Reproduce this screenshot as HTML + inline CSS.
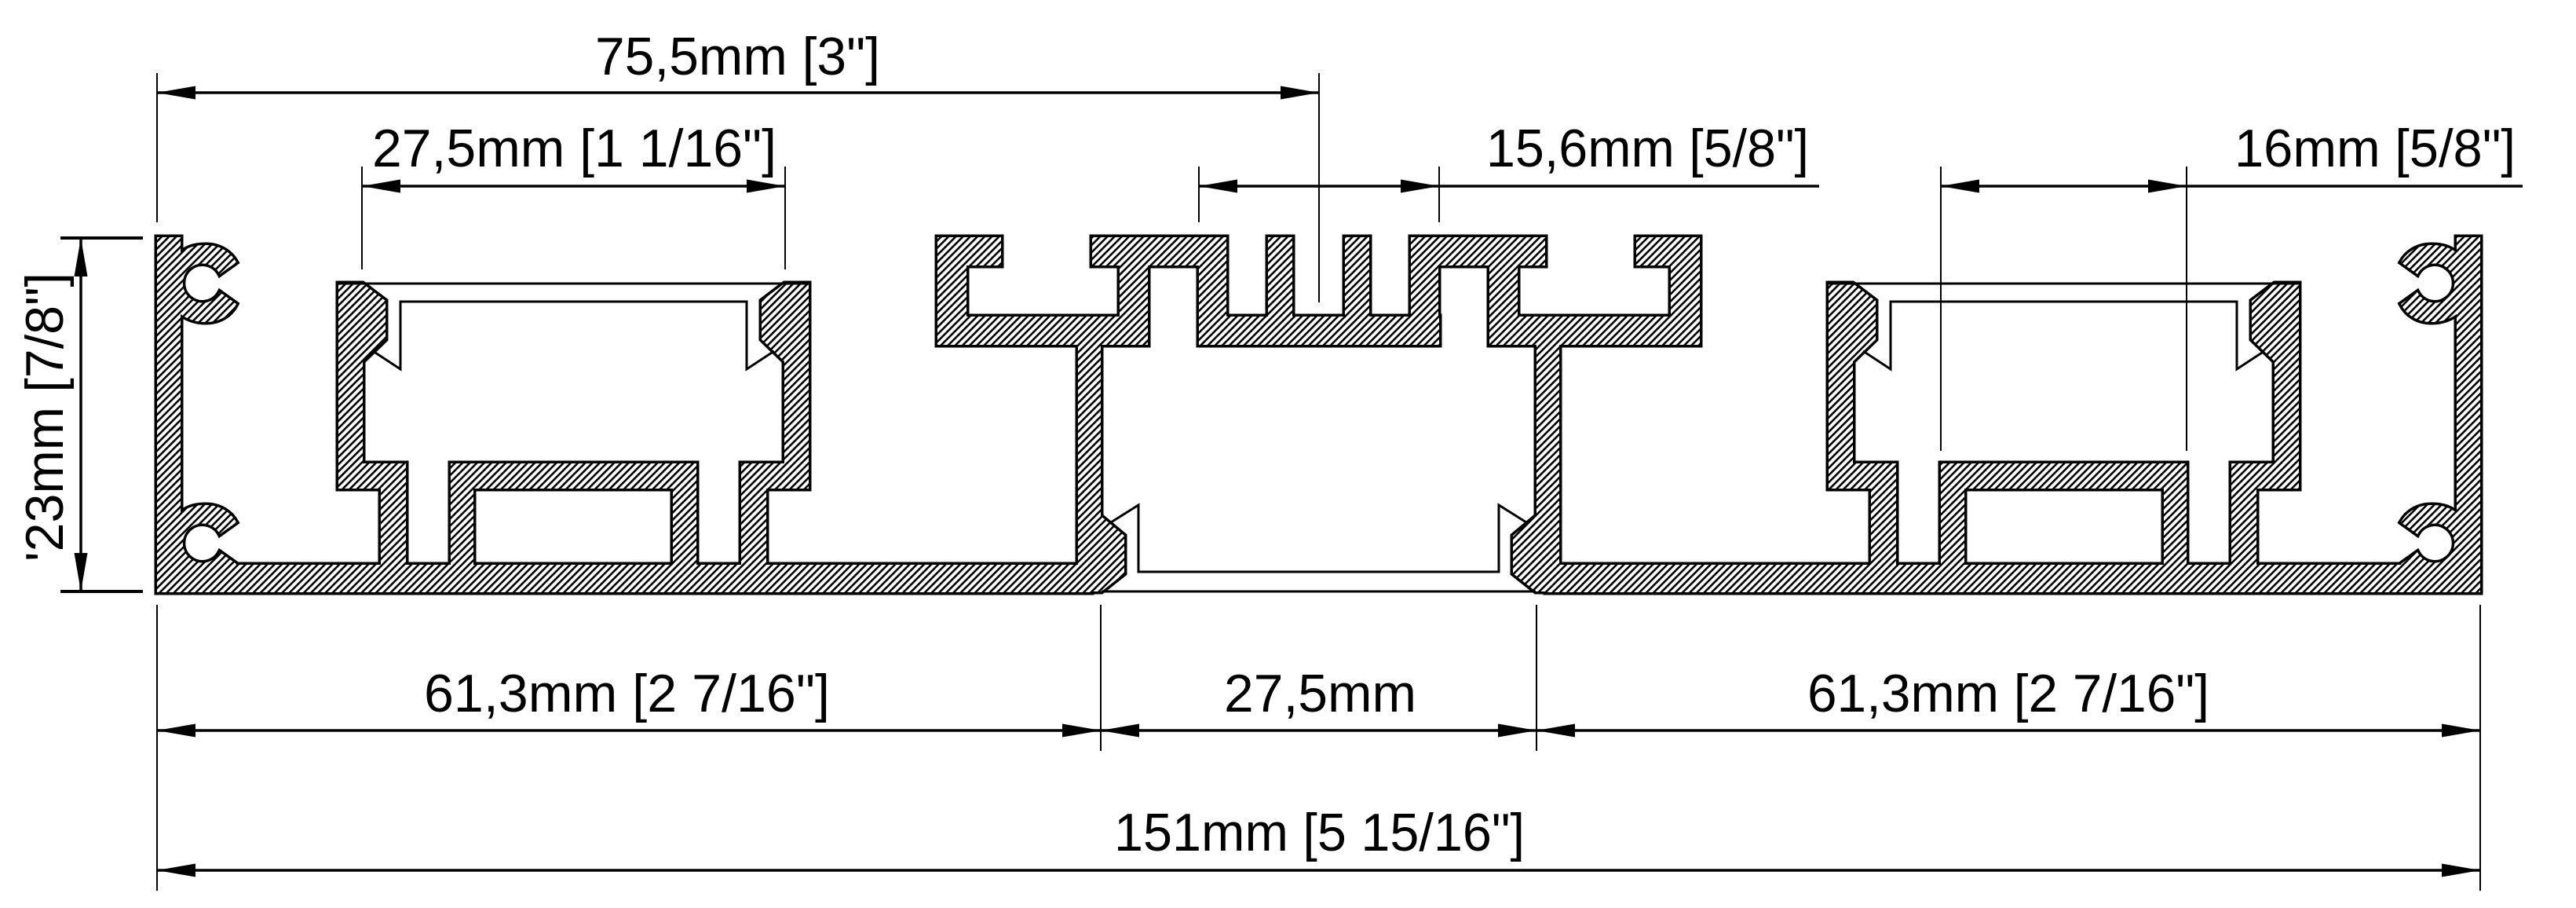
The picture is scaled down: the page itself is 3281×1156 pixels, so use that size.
<!DOCTYPE html>
<html><head><meta charset="utf-8"><style>
html,body{margin:0;padding:0;background:#fff;}
svg{display:block;}
text{font-family:"Liberation Sans",Arial,sans-serif;font-size:68px;fill:#000;}
</style></head><body>
<svg width="3281" height="1156" viewBox="0 0 3281 1156" xmlns="http://www.w3.org/2000/svg">
<defs>
<pattern id="h" patternUnits="userSpaceOnUse" width="6.5" height="6.5" patternTransform="rotate(45)">
<rect width="6.5" height="6.5" fill="#fff"/>
<rect x="0" y="0" width="2.6" height="6.5" fill="#000"/>
</pattern>
<g id="solids">
<rect x="200" y="302" width="30" height="452"/>
<rect x="200" y="719" width="1190" height="35"/>
<path d="M230,322 C240,314 250,312 262,312 C280,312 294,321 301,334 L280,349 A25,25 0 1 0 280,372 L301,387 C294,401 280,410 262,410 C250,410 240,407 230,400 Z"/>
<path d="M230,653 C240,645 250,643 262,643 C280,643 294,652 301,665 L280,680 A25,25 0 1 0 280,703 L301,718 C294,732 280,741 262,741 C250,741 240,738 230,731 Z"/>
<polygon points="431,361 462,361 491,383 491,432 462,460 462,590 517,590 517,725 485,725 485,622 431,622"/>
<polygon points="1030,361 999,361 970,383 970,432 999,460 999,590 944,590 944,725 976,725 976,622 1030,622"/>
<path fill-rule="evenodd" d="M574,590 H887 V725 H574 Z M603,622 V719 H857 V622 Z"/>
<polygon points="1373,439 1402,439 1402,657 1432,682 1432,730 1403,753 1373,753"/>
<rect x="1194" y="302" width="81" height="36"/>
<rect x="1194" y="302" width="37" height="137"/>
<rect x="1194" y="403" width="268" height="36"/>
<rect x="1426" y="302" width="36" height="137"/>
<rect x="1391" y="302" width="171" height="36"/>
<rect x="1527" y="302" width="35" height="137"/>
<rect x="1527" y="403" width="306" height="36"/>
<rect x="1615" y="302" width="31" height="137"/>
<rect x="1713" y="302" width="31" height="137"/>
<rect x="1797" y="302" width="35" height="137"/>
<rect x="1797" y="302" width="171" height="36"/>
<rect x="1897" y="302" width="36" height="137"/>
<rect x="1897" y="403" width="268" height="36"/>
<rect x="2128" y="302" width="37" height="137"/>
<rect x="2084" y="302" width="81" height="36"/>
<polygon points="1986,439 1957,439 1957,657 1927,682 1927,730 1956,753 1986,753"/>
<rect x="1969" y="719" width="1190" height="35"/>
<rect x="3129" y="302" width="30" height="452"/>
<path d="M3129,322 C3119,314 3109,312 3097,312 C3079,312 3065,321 3058,334 L3079,349 A25,25 0 1 1 3079,372 L3058,387 C3065,401 3079,410 3097,410 C3109,410 3119,407 3129,400 Z"/>
<path d="M3129,653 C3119,645 3109,643 3097,643 C3079,643 3065,652 3058,665 L3079,680 A25,25 0 1 1 3079,703 L3058,718 C3065,732 3079,741 3097,741 C3109,741 3119,738 3129,731 Z"/>
<polygon points="2928,361 2897,361 2868,383 2868,432 2897,460 2897,590 2842,590 2842,725 2874,725 2874,622 2928,622"/>
<polygon points="2329,361 2360,361 2389,383 2389,432 2360,460 2360,590 2415,590 2415,725 2383,725 2383,622 2329,622"/>
<path fill-rule="evenodd" d="M2472,590 H2785 V725 H2472 Z M2502,622 V719 H2756 V622 Z"/>
</g>
<marker id="a" viewBox="0 0 49 17" refX="49" refY="8.5" markerWidth="49" markerHeight="17" markerUnits="userSpaceOnUse" orient="auto-start-reverse">
<polygon points="0,0 49,8.5 0,17" fill="#000"/>
</marker>
</defs>

<use href="#solids" fill="#000" stroke="#000" stroke-width="7" stroke-linejoin="miter"/>
<use href="#solids" fill="url(#h)" stroke="none"/>

<g fill="none" stroke="#000" stroke-width="3">
<line x1="431" y1="361" x2="1030" y2="361"/>
<polyline points="475,447 510,470 510,384 951,384 951,470 986,447"/>
<line x1="2329" y1="361" x2="2928" y2="361"/>
<polyline points="2373,447 2408,470 2408,384 2849,384 2849,470 2884,447"/>
<polyline points="1415,665 1450,643 1450,728 1909,728 1909,643 1944,665"/>
<line x1="1403" y1="753" x2="1956" y2="753"/>
</g>

<g stroke="#000" stroke-width="2">
<line x1="200" y1="93" x2="200" y2="283"/>
<line x1="1680" y1="93" x2="1680" y2="385"/>
<line x1="461" y1="212" x2="461" y2="343"/>
<line x1="1000" y1="212" x2="1000" y2="343"/>
<line x1="1527" y1="212" x2="1527" y2="283"/>
<line x1="1833" y1="212" x2="1833" y2="283"/>
<line x1="2472" y1="212" x2="2472" y2="574"/>
<line x1="2785" y1="212" x2="2785" y2="574"/>
<line x1="200" y1="770" x2="200" y2="1134"/>
<line x1="3159" y1="770" x2="3159" y2="1134"/>
<line x1="1402" y1="770" x2="1402" y2="956"/>
<line x1="1957" y1="770" x2="1957" y2="956"/>
</g>
<g stroke="#000" stroke-width="4">
<line x1="77" y1="303" x2="182" y2="303"/>
<line x1="77" y1="753" x2="182" y2="753"/>
</g>

<g stroke="#000" stroke-width="3.5" fill="none">
<line x1="200" y1="118" x2="1680" y2="118" marker-start="url(#a)" marker-end="url(#a)"/>
<line x1="461" y1="237" x2="1000" y2="237" marker-start="url(#a)" marker-end="url(#a)"/>
<line x1="1527" y1="237" x2="1833" y2="237" marker-start="url(#a)" marker-end="url(#a)"/>
<line x1="1833" y1="237" x2="2317" y2="237"/>
<line x1="2472" y1="237" x2="2785" y2="237" marker-start="url(#a)" marker-end="url(#a)"/>
<line x1="2785" y1="237" x2="3213" y2="237"/>
<line x1="200" y1="930" x2="1402" y2="930" marker-start="url(#a)" marker-end="url(#a)"/>
<line x1="1402" y1="930" x2="1957" y2="930" marker-start="url(#a)" marker-end="url(#a)"/>
<line x1="1957" y1="930" x2="3159" y2="930" marker-start="url(#a)" marker-end="url(#a)"/>
<line x1="200" y1="1108" x2="3159" y2="1108" marker-start="url(#a)" marker-end="url(#a)"/>
<line x1="103" y1="303" x2="103" y2="753" marker-start="url(#a)" marker-end="url(#a)"/>
</g>

<text x="758" y="95" textLength="363" lengthAdjust="spacingAndGlyphs">75,5mm [3"]</text>
<text x="474" y="212" textLength="515" lengthAdjust="spacingAndGlyphs">27,5mm [1 1/16"]</text>
<text x="1893" y="212" textLength="411" lengthAdjust="spacingAndGlyphs">15,6mm [5/8"]</text>
<text x="2846" y="212" textLength="358" lengthAdjust="spacingAndGlyphs">16mm [5/8"]</text>
<text x="540" y="906" textLength="517" lengthAdjust="spacingAndGlyphs">61,3mm [2 7/16"]</text>
<text x="1559" y="906" textLength="245" lengthAdjust="spacingAndGlyphs">27,5mm</text>
<text x="2302" y="906" textLength="512" lengthAdjust="spacingAndGlyphs">61,3mm [2 7/16"]</text>
<text x="1419" y="1083" textLength="523" lengthAdjust="spacingAndGlyphs">151mm [5 15/16"]</text>
<text transform="translate(80,715) rotate(-90)" x="0" y="0" textLength="368" lengthAdjust="spacingAndGlyphs">'23mm [7/8"]</text>
</svg>
</body></html>
